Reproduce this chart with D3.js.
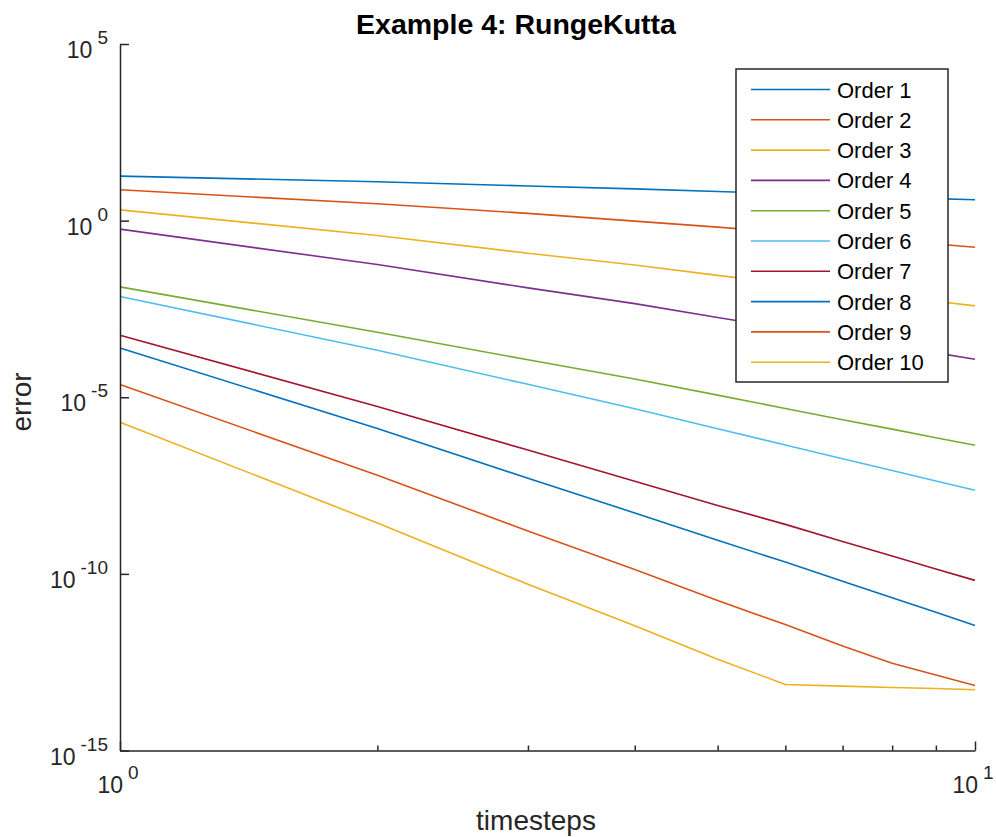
<!DOCTYPE html>
<html>
<head>
<meta charset="utf-8">
<script src="https://cdn.jsdelivr.net/npm/d3@7"></script>
<style>
  html, body { margin: 0; padding: 0; background: #fff; }
  svg { display: block; font-family: "Liberation Sans", Arial, Helvetica, sans-serif; }
</style>
</head>
<body>
<svg id="chart" width="996" height="837"></svg>
<script>
// Number of timesteps used for each run
const timesteps = [1, 2, 3, 4, 5, 6, 7, 8, 9, 10];

// Error of each Runge-Kutta order versus number of timesteps
const order1  = [18.2, 12.6, 9.6, 7.9, 6.7, 5.8, 5.1, 4.6, 4.2, 3.9];
const order2  = [7.46, 2.99, 1.60, 0.968, 0.655, 0.465, 0.348, 0.270, 0.217, 0.177];
const order3  = [2.02, 0.381, 0.119, 0.0552, 0.0282, 0.0167, 0.0107, 0.00733, 0.00522, 0.00385];
const order4  = [0.574, 0.0570, 0.0125, 0.00446, 0.00181, 8.85e-4, 4.83e-4, 2.86e-4, 1.80e-4, 1.19e-4];
const order5  = [1.33e-2, 6.93e-4, 1.15e-4, 3.30e-5, 1.15e-5, 4.82e-6, 2.32e-6, 1.25e-6, 7.13e-7, 4.37e-7];
const order6  = [7.13e-3, 2.14e-4, 2.32e-5, 4.72e-6, 1.28e-6, 4.46e-7, 1.81e-7, 8.43e-8, 4.26e-8, 2.32e-8];
const order7  = [5.70e-4, 5.46e-6, 3.19e-7, 4.17e-8, 8.67e-9, 2.52e-9, 8.22e-10, 3.21e-10, 1.38e-10, 6.55e-11];
const order8  = [2.49e-4, 1.30e-6, 5.11e-8, 5.31e-9, 8.89e-10, 2.16e-10, 6.14e-11, 2.12e-11, 8.17e-12, 3.48e-12];
const order9  = [2.29e-5, 6.17e-8, 1.64e-9, 1.32e-10, 1.75e-11, 3.66e-12, 9.12e-13, 2.97e-13, 1.38e-13, 6.95e-14];
const order10 = [1.96e-6, 2.75e-9, 5.05e-11, 3.41e-12, 3.85e-13, 7.41e-14, 6.64e-14, 6.10e-14, 5.71e-14, 5.25e-14];

const seriesNames = ["Order 1", "Order 2", "Order 3", "Order 4", "Order 5",
                     "Order 6", "Order 7", "Order 8", "Order 9", "Order 10"];
const seriesValues = [order1, order2, order3, order4, order5,
                      order6, order7, order8, order9, order10];

// Axis tick exponents
const yTickExponents = [5, 0, -5, -10, -15];
const xTickExponents = [0, 1];

// Default MATLAB line colour order
const colors = ["#0072BD", "#D95319", "#EDB120", "#7E2F8E", "#77AC30",
                "#4DBEEE", "#A2142F", "#0072BD", "#D95319", "#EDB120"];

const svg = d3.select("#chart");
const axisColor = "#262626";

const plotLeft = 120, plotRight = 975, plotTop = 44, plotBottom = 750.5;

const x = d3.scaleLog().domain([1, 10]).range([plotLeft, plotRight]);
const y = d3.scaleLog().domain([1e-15, 1e5]).range([plotBottom, plotTop]);

// Series lines
const line = d3.line()
  .x((d, i) => x(timesteps[i]))
  .y(d => y(d));

svg.append("g")
  .selectAll("path")
  .data(seriesValues)
  .join("path")
  .attr("d", d => line(d))
  .attr("fill", "none")
  .attr("stroke", (d, i) => colors[i])
  .attr("stroke-width", 1.6)
  .attr("stroke-linejoin", "round");

// Left axis: inward decade ticks, labels drawn separately as 10^n
const yAxis = d3.axisLeft(y)
  .tickValues(yTickExponents.map(e => Math.pow(10, e)))
  .tickSizeInner(-9)
  .tickSizeOuter(0)
  .tickFormat("");
const gy = svg.append("g").attr("transform", `translate(${plotLeft},0)`).call(yAxis);
gy.select(".domain").attr("stroke", axisColor).attr("stroke-width", 1.5);
gy.selectAll(".tick line").attr("stroke", axisColor).attr("stroke-width", 1.5);

// Bottom axis: major ticks at decades, minor ticks at 2..9
const xMinor = d3.range(2, 10);
const xAxisMinor = d3.axisBottom(x)
  .tickValues(xMinor)
  .tickSizeInner(-5)
  .tickSizeOuter(0)
  .tickFormat("");
const gxm = svg.append("g").attr("transform", `translate(0,${plotBottom})`).call(xAxisMinor);
gxm.select(".domain").remove();
gxm.selectAll(".tick line").attr("stroke", axisColor).attr("stroke-width", 1.5);

const xAxis = d3.axisBottom(x)
  .tickValues(xTickExponents.map(e => Math.pow(10, e)))
  .tickSizeInner(-9)
  .tickSizeOuter(0)
  .tickFormat("");
const gx = svg.append("g").attr("transform", `translate(0,${plotBottom})`).call(xAxis);
gx.select(".domain").attr("stroke", axisColor).attr("stroke-width", 1.5);
gx.selectAll(".tick line").attr("stroke", axisColor).attr("stroke-width", 1.5);

// Power-of-ten tick labels
function powerLabel(sel, exp) {
  sel.append("tspan").text("10");
  sel.append("tspan")
    .attr("dx", 5)
    .attr("dy", -14)
    .attr("font-size", 19)
    .text(String(exp));
}

yTickExponents.forEach(e => {
  const t = svg.append("text")
    .attr("x", 108)
    .attr("y", y(Math.pow(10, e)) + 14)
    .attr("text-anchor", "end")
    .attr("font-size", 23)
    .attr("fill", axisColor);
  powerLabel(t, e);
});

xTickExponents.forEach(e => {
  const t = svg.append("text")
    .attr("x", x(Math.pow(10, e)) - 2)
    .attr("y", 793)
    .attr("text-anchor", "middle")
    .attr("font-size", 23)
    .attr("fill", axisColor);
  powerLabel(t, e);
});

// Title and axis titles
svg.append("text")
  .attr("x", 516)
  .attr("y", 34)
  .attr("text-anchor", "middle")
  .attr("font-size", 28.5)
  .attr("font-weight", "bold")
  .attr("fill", "#000")
  .text("Example 4: RungeKutta");

svg.append("text")
  .attr("x", 536)
  .attr("y", 830)
  .attr("text-anchor", "middle")
  .attr("font-size", 28)
  .attr("fill", axisColor)
  .text("timesteps");

svg.append("text")
  .attr("transform", "translate(31,402) rotate(-90)")
  .attr("text-anchor", "middle")
  .attr("font-size", 28)
  .attr("fill", axisColor)
  .text("error");

// Legend
const legend = svg.append("g");
legend.append("rect")
  .attr("x", 736)
  .attr("y", 69)
  .attr("width", 212)
  .attr("height", 313)
  .attr("fill", "#fff")
  .attr("stroke", axisColor)
  .attr("stroke-width", 1.5);

const rows = legend.selectAll("g.row")
  .data(seriesNames)
  .join("g")
  .attr("class", "row")
  .attr("transform", (d, i) => `translate(0,${89.5 + i * 30.3})`);

rows.append("line")
  .attr("x1", 751)
  .attr("x2", 830)
  .attr("stroke", (d, i) => colors[i])
  .attr("stroke-width", 1.6);

rows.append("text")
  .attr("x", 837)
  .attr("y", 8)
  .attr("font-size", 22)
  .attr("fill", "#000")
  .text(d => d);
</script>
</body>
</html>
